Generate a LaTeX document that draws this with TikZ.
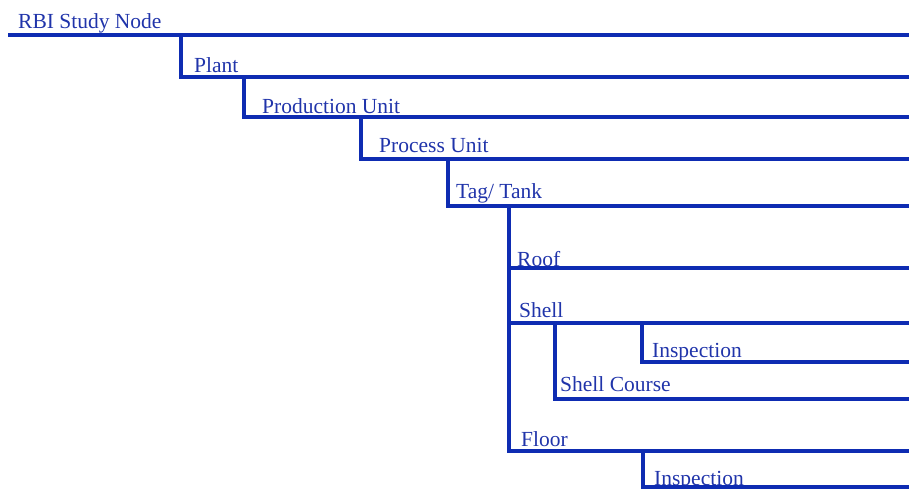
\documentclass[tikz,border=0pt]{standalone}
\usepackage{fontspec}
\setmainfont{Liberation Serif}
\definecolor{treeblue}{RGB}{14,44,178}
\definecolor{textblue}{RGB}{32,52,170}
\begin{document}
\begin{tikzpicture}[x=1pt,y=-1pt,
  lbl/.style={anchor=base west, inner sep=0pt, text=textblue, font=\fontsize{21.5}{25}\selectfont},
  branch/.style={draw=treeblue, line width=3.4pt, line join=miter, line cap=butt}]
\useasboundingbox (0,0) rectangle (909,488);
\coordinate (E) at (909,0);
% labels
\node[lbl] (rbi)    at (18,28)  {RBI Study Node};
\node[lbl] (plant)  at (194,72) {Plant};
\node[lbl] (prod)   at (262,113) {Production\ Unit};
\node[lbl] (proc)   at (379,152) {Process\ Unit};
\node[lbl] (tag)    at (456,198) {Tag/ Tank};
\node[lbl] (roof)   at (517,266) {Roof};
\node[lbl] (shell)  at (519,317) {Shell};
\node[lbl] (inspA)  at (652,357) {Inspection};
\node[lbl] (course) at (560,391) {Shell Course};
\node[lbl] (floor)  at (521,446) {Floor};
\node[lbl] (inspB)  at (654,485) {Inspection};
% line anchors
\coordinate (rbiL)    at (8,35);
\coordinate (plantL)  at (181,77);
\coordinate (prodL)   at (244,117);
\coordinate (procL)   at (361,159);
\coordinate (tagL)    at (446,206);
\coordinate (tagV)    at (448,206);
\coordinate (roofL)   at (509,268);
\coordinate (shellL)  at (509,323);
\coordinate (inspAL)  at (642,362);
\coordinate (courseL) at (555,399);
\coordinate (floorL)  at (509,451);
\coordinate (inspBL)  at (643,487);
% connectors
\draw[branch] (rbiL) -- (rbiL -| E);
\draw[branch] (plantL |- rbiL) -- (plantL) -- (plantL -| E);
\draw[branch] (prodL |- plantL) -- (prodL) -- (prodL -| E);
\draw[branch] (procL |- prodL) -- (procL) -- (procL -| E);
\draw[branch] (tagV |- procL) -- (tagV);
\draw[branch] (tagL) -- (tagL -| E);
\draw[branch] (floorL |- tagL) -- (floorL) -- (floorL -| E);
\draw[branch] (roofL) -- (roofL -| E);
\draw[branch] (shellL) -- (shellL -| E);
\draw[branch] (inspAL |- shellL) -- (inspAL) -- (inspAL -| E);
\draw[branch] (courseL |- shellL) -- (courseL) -- (courseL -| E);
\draw[branch] (inspBL |- floorL) -- (inspBL) -- (inspBL -| E);
\end{tikzpicture}
\end{document}
